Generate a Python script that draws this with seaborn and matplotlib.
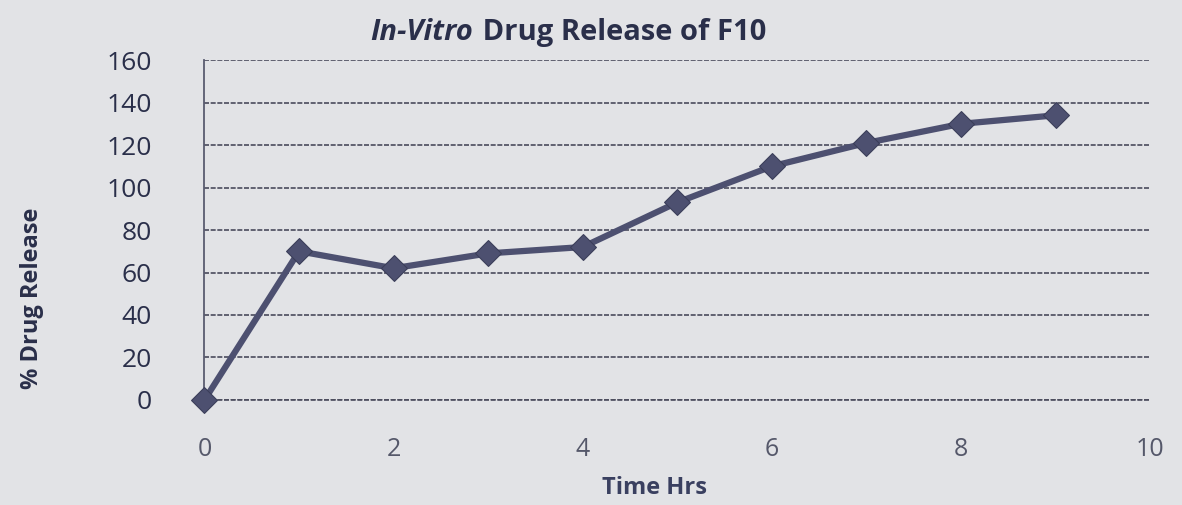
import seaborn as sns
import matplotlib.pyplot as plt
import pandas as pd

# data
time_hrs = [0, 1, 2, 3, 4, 5, 6, 7, 8, 9]
drug_release = [0, 70, 62, 69, 72, 93, 110, 121, 130, 134]
y_ticks = [0, 20, 40, 60, 80, 100, 120, 140, 160]
x_ticks = [0, 2, 4, 6, 8, 10]

df = pd.DataFrame({"Time Hrs": time_hrs, "% Drug Release": drug_release})

sns.set_style("white")
plt.rcParams['font.family'] = ['Open Sans', 'DejaVu Sans']

bg = "#e2e3e6"
ink = "#2a2f4a"
line_col = "#4d5070"
grid_col = "#4a4b5c"

fig = plt.figure(figsize=(11.82, 5.05), dpi=100, facecolor=bg)
ax = fig.add_axes([0.173, 0.208, 0.80, 0.673])
ax.set_facecolor(bg)

sns.lineplot(data=df, x="Time Hrs", y="% Drug Release", ax=ax, color=line_col,
             linewidth=4.5, marker="D", markersize=13, markerfacecolor=line_col,
             markeredgecolor="#3a3d58", clip_on=False, zorder=5)

ax.set_xlim(0, 10)
ax.set_ylim(0, 160)
ax.set_yticks(y_ticks)
ax.set_xticks(x_ticks)
ax.yaxis.grid(True, color=grid_col, linestyle=(0, (3, 1)), linewidth=1.2)
ax.xaxis.grid(False)
for side in ["top", "right", "bottom"]:
    ax.spines[side].set_visible(False)
ax.spines["left"].set_color("#5a5c70")
ax.spines["left"].set_linestyle((0, (1, 1)))
ax.spines["left"].set_linewidth(1.3)
ax.axhline(0, color=grid_col, linestyle=(0, (3, 1)), linewidth=1.2, clip_on=False)

ax.tick_params(axis="y", labelsize=19, colors=ink, length=0, pad=38)
ax.tick_params(axis="x", labelsize=18, colors="#55586a", length=0, pad=27)

ax.set_xlabel("Time Hrs", fontsize=17, fontweight="bold", color="#3a4060")
ax.xaxis.set_label_coords(0.476, -0.225)
ax.set_ylabel("% Drug Release", fontsize=17, fontweight="bold", color=ink)
ax.yaxis.set_label_coords(-0.17, 0.30)

# title with italic first part
fig.text(0.400, 0.935, "In-Vitro", ha="right", va="center", fontsize=21,
         fontweight="bold", fontstyle="italic", color=ink)
fig.text(0.402, 0.935, " Drug Release of F10", ha="left", va="center", fontsize=21,
         fontweight="bold", color=ink)

fig.savefig("out.png", dpi=100, facecolor=bg)
